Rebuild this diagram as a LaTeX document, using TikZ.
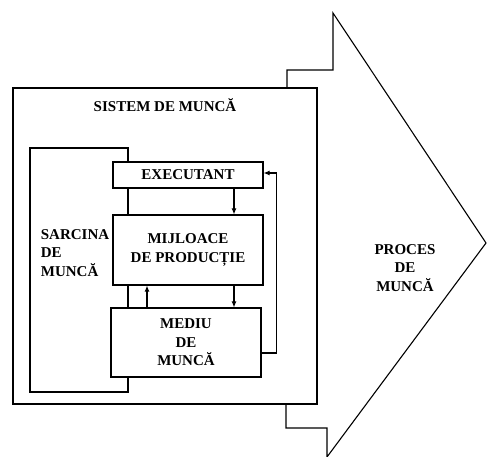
\documentclass[tikz,border=0pt]{standalone}
\usepackage{fontspec}
\setmainfont{Liberation Serif}
\usepackage{tikz}
\usetikzlibrary{arrows, arrows.meta, positioning, calc}

\begin{document}
\begin{tikzpicture}[
    x=1pt, y=-1pt,
    line width=1.1pt,
    box/.style={rectangle, draw, line width=1.1pt, minimum width=150pt, inner sep=2pt},
    lbl/.style={align=center, font=\fontsize{15}{18.5}\selectfont\bfseries},
    arrow/.style={->, >={Latex[length=6pt,width=5pt]}, line width=1.1pt}
]
    \useasboundingbox (0,0) rectangle (491,457);

    % System of work
    \node[box, minimum width=304pt, minimum height=316pt] (sistem) at (165,246) {};
    \node[lbl] (sistemlbl) at (165,105) {SISTEM DE MUNCĂ};

    % Process arrow
    \draw (287,88) -- (287,70) -- (333,70) -- (333,13) -- (486,243)
        -- (327,457) -- (327,428) -- (286,428) -- (286,404);
    \node[lbl] (proces) at (405,268) {PROCES\\DE\\MUNCĂ};

    % Elements
    \node[box, minimum height=26pt, lbl] (exec) at (188,175) {EXECUTANT};
    \node[box, minimum height=70pt, lbl] (mijl) at (188,250) {MIJLOACE\\DE PRODUCȚIE};
    \node[box, minimum height=69pt, lbl] (mediu) at (186,342.5) {MEDIU\\DE\\MUNCĂ};

    % Task
    \coordinate (sr) at (128,0);
    \draw (exec.north -| sr) -- (128,148) -- (30,148) -- (30,392)
        -- (128,392) -- (mediu.south -| sr);
    \draw (exec.south -| sr) -- (mijl.north -| sr);
    \draw (mijl.south -| sr) -- (mediu.north -| sr);
    \node[lbl, align=left, anchor=west] (sarcina) at (37,253) {SARCINA\\DE\\MUNCĂ};

    % Links
    \coordinate (ax) at (234,0);
    \coordinate (bx) at (147,0);
    \draw[arrow] (exec.south -| ax) -- (mijl.north -| ax);
    \draw[arrow] (mijl.south -| ax) -- (mediu.north -| ax);
    \draw[arrow] (mediu.north -| bx) -- (mijl.south -| bx);
    \draw[arrow] ([yshift=-10.5pt]mediu.east) -- ++(15,0) |- ([yshift=2pt]exec.east);
\end{tikzpicture}
\end{document}
